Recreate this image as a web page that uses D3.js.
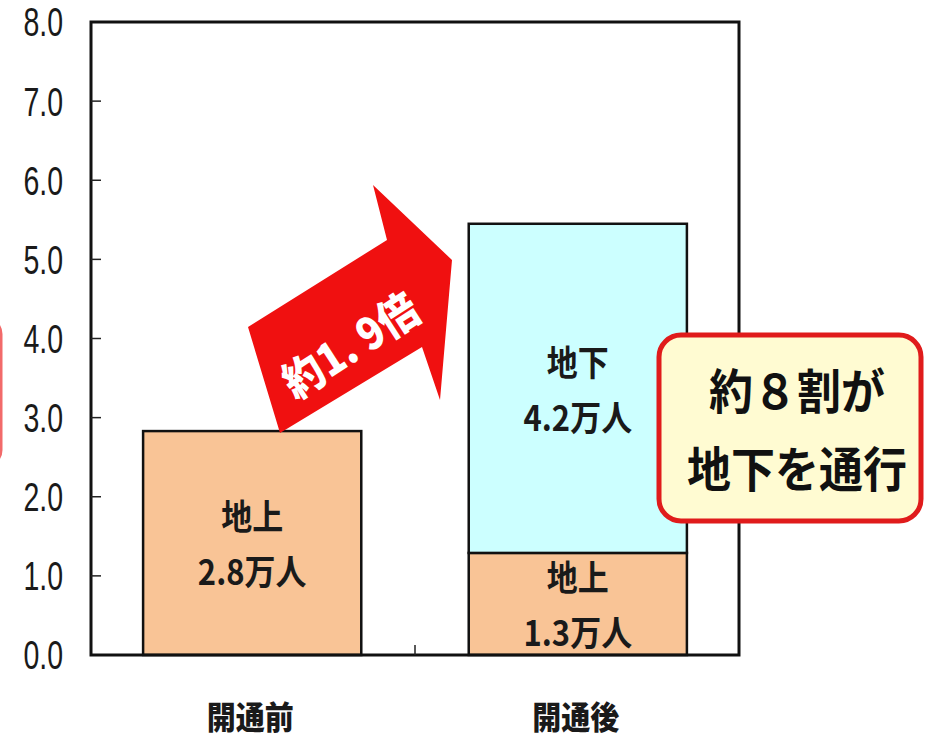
<!DOCTYPE html>
<html><head><meta charset="utf-8">
<script src="https://cdn.jsdelivr.net/npm/d3@7"></script>
<style>html,body{margin:0;padding:0;background:#fff;}svg{display:block;}</style>
</head><body>
<svg id="c" width="925" height="737"></svg>
<script>
// ---- data ----
const categories = ["開通前", "開通後"];
const groundValues = [2.83, 1.29];        // 地上
const undergroundValues = [0, 4.16];      // 地下
const groundLabels = [["地上", "2.8万人"], ["地上", "1.3万人"]];
const undergroundLabels = [null, ["地下", "4.2万人"]];
const yTicks = [0, 1, 2, 3, 4, 5, 6, 7, 8];
const yTickLabels = ["0.0", "1.0", "2.0", "3.0", "4.0", "5.0", "6.0", "7.0", "8.0"];
const arrowText = "約1. 9倍";
const calloutLines = ["約８割が", "地下を通行"];

const svg = d3.select("#c");
const plot = {l: 91, r: 739, t: 22, b: 655};

const x = d3.scaleBand().domain(categories).range([plot.l, plot.r]).paddingInner(0.33).paddingOuter(0.16);
const y = d3.scaleLinear().domain([0, 8]).range([plot.b, plot.t]);

const jp = "'Noto Sans CJK JP','Noto Sans CJK SC',sans-serif";
const peach = "#f9c496", cyan = "#ccffff";

// left cut-off red box fragment
svg.append("rect").attr("x", -200).attr("y", 318).attr("width", 201).attr("height", 148)
  .attr("rx", 16).attr("fill", "none").attr("stroke", "#f26a6a").attr("stroke-width", 3);

// bars
const rows = categories.map((c, i) => ({c, g: groundValues[i], u: undergroundValues[i], i}));
svg.append("g").selectAll("rect").data(rows).join("rect")
  .attr("x", d => x(d.c)).attr("width", x.bandwidth())
  .attr("y", d => y(d.g)).attr("height", d => y(0) - y(d.g))
  .attr("fill", peach).attr("stroke", "#111").attr("stroke-width", 2.5);
svg.append("g").selectAll("rect").data(rows.filter(d => d.u > 0)).join("rect")
  .attr("x", d => x(d.c)).attr("width", x.bandwidth())
  .attr("y", d => y(d.g + d.u)).attr("height", d => y(d.g) - y(d.g + d.u))
  .attr("fill", cyan).attr("stroke", "#111").attr("stroke-width", 2.5);

// bar labels
function twoLine(cx, cy, lines) {
  const g = svg.append("g").attr("transform", `translate(${cx},${cy})`);
  lines.forEach((t, k) => {
    g.append("text").attr("x", 0).attr("y", 0)
      .attr("transform", `translate(0,${(k - 0.5) * 55}) scale(1,1.12)`)
      .attr("text-anchor", "middle").attr("dominant-baseline", "central")
      .style("font-family", jp).style("font-weight", 700).style("font-size", "31px")
      .attr("fill", "#1a1a1a").text(t);
  });
}
rows.forEach(d => {
  const cx = x(d.c) + x.bandwidth() / 2;
  twoLine(cx, (y(0) + y(d.g)) / 2 - 1, groundLabels[d.i]);
  if (d.u > 0) twoLine(cx, (y(d.g) + y(d.g + d.u)) / 2, undergroundLabels[d.i]);
});

// frame
svg.append("rect").attr("x", plot.l).attr("y", plot.t).attr("width", plot.r - plot.l).attr("height", plot.b - plot.t)
  .attr("fill", "none").attr("stroke", "#111").attr("stroke-width", 3);

// y ticks (inside) and labels
const yAxis = svg.append("g");
yAxis.selectAll("line").data(yTicks.slice(1, -1)).join("line")
  .attr("x1", plot.l).attr("x2", plot.l + 10).attr("y1", d => y(d)).attr("y2", d => y(d))
  .attr("stroke", "#222").attr("stroke-width", 1.5);
yAxis.selectAll("text").data(yTicks).join("text")
  .attr("transform", d => `translate(63,${y(d)}) scale(1,1.42)`)
  .attr("text-anchor", "end").attr("dominant-baseline", "central")
  .style("font-family", "'Liberation Sans',Arial,sans-serif").style("font-size", "28.5px")
  .attr("fill", "#1a1a1a").text((d, i) => yTickLabels[i]);

// middle x tick
const midX = (x(categories[0]) + x.bandwidth() + x(categories[1])) / 2;
svg.append("line").attr("x1", midX).attr("x2", midX)
  .attr("y1", plot.b).attr("y2", plot.b - 10).attr("stroke", "#222").attr("stroke-width", 1.5);

// category labels
svg.append("g").selectAll("text").data(categories).join("text")
  .attr("transform", d => `translate(${x(d) + x.bandwidth() / 2 - 2},729) scale(1,1.1)`)
  .attr("text-anchor", "middle")
  .style("font-family", jp).style("font-weight", 900).style("font-size", "29px")
  .attr("fill", "#1a1a1a").text(d => d);

// red arrow annotation
const arrowPts = [[248, 327], [387, 240], [373, 185], [452, 260], [440, 400], [422, 347], [280, 433]];
svg.append("polygon").attr("points", arrowPts.map(p => p.join(",")).join(" "))
  .attr("fill", "#f01010");
svg.append("text").attr("transform", "translate(349,343) rotate(-33) scale(1,1.1)")
  .attr("text-anchor", "middle").attr("dominant-baseline", "central")
  .style("font-family", jp).style("font-weight", 900).style("font-size", "40px")
  .attr("fill", "#fff").text(arrowText);

// callout box
svg.append("rect").attr("x", 659).attr("y", 335).attr("width", 262).attr("height", 186).attr("rx", 22)
  .attr("fill", "#fffbd2").attr("stroke", "#e01b1b").attr("stroke-width", 5);
calloutLines.forEach((t, k) => {
  svg.append("text").attr("transform", `translate(797,${388 + k * 78}) scale(1,1.08)`)
    .attr("text-anchor", "middle").attr("dominant-baseline", "central")
    .style("font-family", jp).style("font-weight", 700).style("font-size", "44px")
    .attr("fill", "#111").text(t);
});
</script>
</body></html>
